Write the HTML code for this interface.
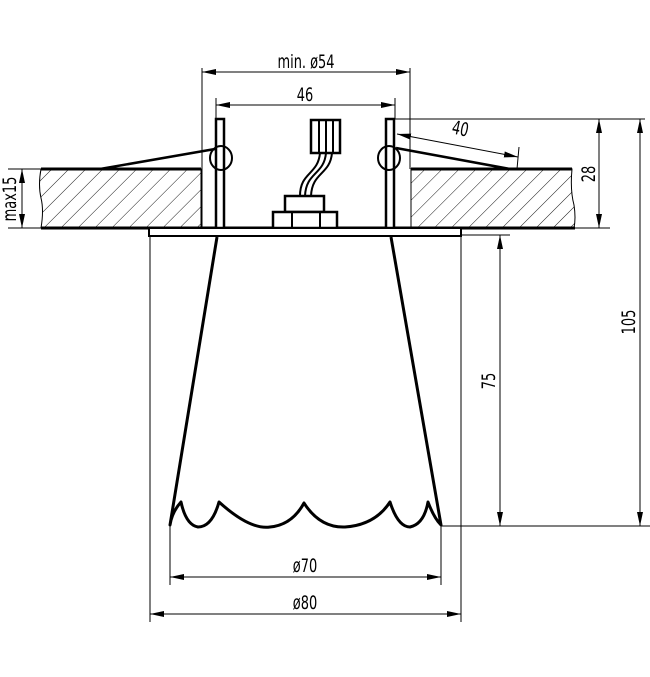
<!DOCTYPE html>
<html><head><meta charset="utf-8"><style>
html,body{margin:0;padding:0;background:#fff;}
svg{display:block}
text{font-family:"DejaVu Sans Condensed","Liberation Sans Narrow","Liberation Sans",sans-serif;font-size:18px;fill:#000}
</style></head><body>
<svg width="650" height="677" viewBox="0 0 650 677" xmlns="http://www.w3.org/2000/svg">
<defs>
<pattern id="h" patternUnits="userSpaceOnUse" width="12" height="12" patternTransform="rotate(45)">
<line x1="0" y1="0" x2="0" y2="12" stroke="#000" stroke-width="0.9"/>
</pattern>
<marker id="a" markerWidth="14" markerHeight="6" refX="14" refY="3" orient="auto-start-reverse" markerUnits="userSpaceOnUse">
<path d="M0,0 L14,3 L0,6 z" fill="#000"/></marker>
</defs>
<g stroke="#000" fill="none">
<path d="M41,169 L201,169 L201,228 L41,228 Q44,210 41,198 Q38,185 41,169 z" fill="url(#h)" stroke-width="1"/>
<path d="M411,169 L572,169 Q570,190 574,205 Q576,218 574,228 L411,228 z" fill="url(#h)" stroke-width="1"/>
<line x1="41" y1="169" x2="201" y2="169" stroke-width="3"/>
<line x1="411" y1="169" x2="572" y2="169" stroke-width="3"/>
<line x1="41" y1="228" x2="575" y2="228" stroke-width="3"/>
<line x1="575" y1="228" x2="610" y2="228" stroke-width="1"/>
<rect x="216" y="119" width="8" height="109" stroke-width="2.5" fill="#fff"/>
<rect x="386" y="119" width="8" height="109" stroke-width="2.5" fill="#fff"/>
<ellipse cx="221" cy="158" rx="11" ry="12" stroke-width="2"/>
<ellipse cx="389" cy="158" rx="11" ry="12" stroke-width="2"/>
<line x1="100" y1="169" x2="215" y2="149" stroke-width="2.5"/>
<line x1="396" y1="148" x2="510" y2="169" stroke-width="2.5"/>
<rect x="311" y="120" width="29" height="33" stroke-width="2.5" fill="#fff"/>
<line x1="319" y1="120" x2="319" y2="153" stroke-width="2"/>
<line x1="326" y1="120" x2="326" y2="153" stroke-width="2"/>
<line x1="333" y1="120" x2="333" y2="153" stroke-width="2"/>
<path d="M320,153 C318,175 300,172 300,196" stroke-width="2"/>
<path d="M326,153 C324,175 306,172 305,196" stroke-width="2"/>
<path d="M332,153 C330,175 312,172 311,196" stroke-width="2"/>
<rect x="285" y="196" width="39" height="16" stroke-width="2.5" fill="#fff"/>
<rect x="273" y="212" width="64" height="16" stroke-width="2.5" fill="#fff"/>
<line x1="292" y1="212" x2="292" y2="228" stroke-width="2"/>
<line x1="320" y1="212" x2="320" y2="228" stroke-width="2"/>
<rect x="149" y="228" width="312" height="8" stroke-width="2" fill="#fff"/>
<path d="M217,237 L170,525 Q172,512 181,502 Q186,525 198,527 Q212,527 219,502 Q250,530 270,527 Q292,525 304,503 Q320,528 345,527 Q375,525 390,502 Q398,527 410,527 Q424,524 428,502 Q434,518 441,525 L391,237" stroke-width="3" stroke-linejoin="round"/>
<g stroke-width="1">
<line x1="202" y1="68" x2="202" y2="228"/>
<line x1="410" y1="68" x2="410" y2="169"/>
<line x1="202" y1="72" x2="410" y2="72" marker-start="url(#a)" marker-end="url(#a)"/>
<line x1="216" y1="98" x2="216" y2="119"/>
<line x1="395" y1="98" x2="395" y2="119"/>
<line x1="216" y1="105" x2="395" y2="105" marker-start="url(#a)" marker-end="url(#a)"/>
<line x1="395" y1="119" x2="645" y2="119"/>
<line x1="599" y1="119" x2="599" y2="228" marker-start="url(#a)" marker-end="url(#a)"/>
<line x1="640" y1="119" x2="640" y2="526" marker-start="url(#a)" marker-end="url(#a)"/>
<line x1="461" y1="235" x2="510" y2="235"/>
<line x1="441" y1="526" x2="650" y2="526"/>
<line x1="500" y1="235" x2="500" y2="526" marker-start="url(#a)" marker-end="url(#a)"/>
<line x1="397" y1="134" x2="518" y2="157" marker-start="url(#a)" marker-end="url(#a)"/>
<line x1="519" y1="147" x2="517" y2="169"/>
<line x1="8" y1="169" x2="41" y2="169"/>
<line x1="8" y1="228" x2="41" y2="228"/>
<line x1="22" y1="169" x2="22" y2="228" marker-start="url(#a)" marker-end="url(#a)"/>
<line x1="150" y1="237" x2="150" y2="622"/>
<line x1="461" y1="237" x2="461" y2="622"/>
<line x1="170" y1="525" x2="170" y2="585"/>
<line x1="441" y1="525" x2="441" y2="585"/>
<line x1="170" y1="577" x2="441" y2="577" marker-start="url(#a)" marker-end="url(#a)"/>
<line x1="150" y1="614" x2="461" y2="614" marker-start="url(#a)" marker-end="url(#a)"/>
</g>
</g>
<g>
<text text-anchor="middle" transform="translate(306,68) scale(0.8,1.05)">min. ø54</text>
<text text-anchor="middle" transform="translate(305,101) scale(0.8,1.05)">46</text>
<text text-anchor="middle" transform="translate(459,135) rotate(12) scale(0.8,1.05)">40</text>
<text text-anchor="middle" transform="translate(595,174) rotate(-90) scale(0.8,1.05)">28</text>
<text text-anchor="middle" transform="translate(635,322) rotate(-90) scale(0.8,1.05)">105</text>
<text text-anchor="middle" transform="translate(495,381) rotate(-90) scale(0.8,1.05)">75</text>
<text text-anchor="middle" transform="translate(16,199) rotate(-90) scale(0.8,1.05)">max15</text>
<text text-anchor="middle" transform="translate(305,572) scale(0.8,1.05)">ø70</text>
<text text-anchor="middle" transform="translate(305,609) scale(0.8,1.05)">ø80</text>
</g>
</svg>
</body></html>
